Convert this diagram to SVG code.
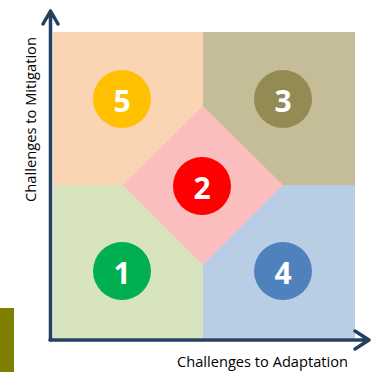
<svg xmlns="http://www.w3.org/2000/svg" width="376" height="372" viewBox="0 0 376 372">
<style>
.num{font-family:"Open Sans","Liberation Sans",sans-serif;font-weight:bold;font-size:30px;fill:#fff;text-anchor:middle;dominant-baseline:central}
.lbl{font-family:"Open Sans","Liberation Sans",sans-serif;font-size:14px;fill:#000}
.axis{stroke:#243F60;stroke-width:3.5;fill:none;stroke-linecap:round;stroke-linejoin:round}
</style>
<rect width="376" height="372" fill="#fff"/>
<rect x="0" y="308" width="14" height="64" fill="#7F7F00"/>
<g id="regions">
<rect x="53" y="32" width="150" height="153" fill="#FBD4B4"/>
<rect x="203" y="32" width="152" height="153" fill="#C4BD97"/>
<rect x="53" y="185" width="150" height="153" fill="#D7E4BD"/>
<rect x="203" y="185" width="152" height="153" fill="#B9CDE5"/>
<polygon points="203,106 283,185 203,265 123,185" fill="#FABEBE"/>
</g>
<g id="node5"><circle cx="122" cy="99" r="29" fill="#FFC000"/><text class="num" x="122" y="100">5</text></g>
<g id="node3"><circle cx="283" cy="99" r="29" fill="#948A54"/><text class="num" x="283" y="100">3</text></g>
<g id="node2"><circle cx="202" cy="186" r="29" fill="#FF0000"/><text class="num" x="202" y="187">2</text></g>
<g id="node1"><circle cx="122" cy="271" r="29" fill="#00B050"/><text class="num" x="122" y="272">1</text></g>
<g id="node4"><circle cx="283" cy="271" r="29" fill="#4F81BD"/><text class="num" x="283" y="272">4</text></g>
<g id="connectors">
<path class="axis" d="M50.5,340 V11 M43,24 L50.5,11 L58,24"/>
<path class="axis" d="M50,340 H369 M355,331 L369,340 L355,349"/>
</g>
<text class="lbl" x="177" y="367" textLength="171" lengthAdjust="spacingAndGlyphs">Challenges to Adaptation</text>
<text class="lbl" transform="translate(36,202) rotate(-90)" x="0" y="0" textLength="165" lengthAdjust="spacingAndGlyphs">Challenges to Mitigation</text>
</svg>
